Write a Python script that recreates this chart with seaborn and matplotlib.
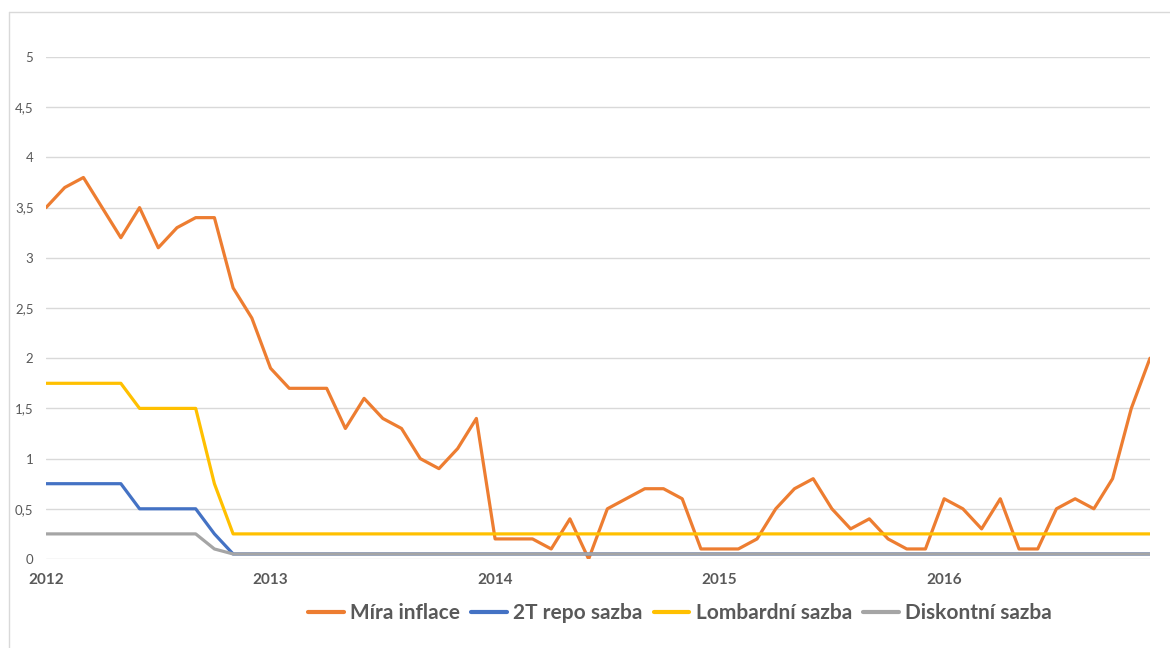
import numpy as np
import pandas as pd
import matplotlib
matplotlib.use("Agg")
import matplotlib.pyplot as plt
from matplotlib.lines import Line2D
import seaborn as sns

# ---- data (monthly, Jan 2012 - Dec 2016) ----
inflation = [3.5, 3.7, 3.8, 3.5, 3.2, 3.5, 3.1, 3.3, 3.4, 3.4, 2.7, 2.4,
             1.9, 1.7, 1.7, 1.7, 1.3, 1.6, 1.4, 1.3, 1.0, 0.9, 1.1, 1.4,
             0.2, 0.2, 0.2, 0.1, 0.4, 0.0, 0.5, 0.6, 0.7, 0.7, 0.6, 0.1,
             0.1, 0.1, 0.2, 0.5, 0.7, 0.8, 0.5, 0.3, 0.4, 0.2, 0.1, 0.1,
             0.6, 0.5, 0.3, 0.6, 0.1, 0.1, 0.5, 0.6, 0.5, 0.8, 1.5, 2.0]
repo_2t = [0.75] * 5 + [0.5] * 4 + [0.25] + [0.05] * 50
lombard = [1.75] * 5 + [1.5] * 4 + [0.75] + [0.25] * 50
discount = [0.25] * 9 + [0.1] + [0.05] * 50
series_names = ["Míra inflace", "2T repo sazba", "Lombardní sazba", "Diskontní sazba"]
year_labels = ["2012", "2013", "2014", "2015", "2016"]
y_ticks = [0, 0.5, 1, 1.5, 2, 2.5, 3, 3.5, 4, 4.5, 5]

colors = ["#ED7D31", "#4472C4", "#FFC000", "#A5A5A5"]

months = np.arange(len(inflation))
df = pd.concat([
    pd.DataFrame({"month": months, "value": vals, "series": name})
    for name, vals in zip(series_names, [inflation, repo_2t, lombard, discount])
], ignore_index=True)

sns.set_style("white")
plt.rcParams["font.family"] = ["Lato", "DejaVu Sans"]

W, H = 1170, 648
fig = plt.figure(figsize=(W / 100, H / 100), dpi=100)
ax = fig.add_axes([46 / W, (H - 559) / H, (1150 - 46) / W, (559 - 57) / H])

sns.lineplot(data=df, x="month", y="value", hue="series", hue_order=series_names,
             palette=colors, linewidth=2.3, ax=ax, legend=False,
             solid_capstyle="round", solid_joinstyle="round")

ax.set_xlim(0, len(inflation) - 1)
ax.set_ylim(0, 5)
ax.set_yticks(y_ticks)
ax.set_yticklabels([("%g" % v).replace(".", ",") for v in y_ticks],
                   fontsize=9.5, color="#595959")
ax.set_xticks([12 * i for i in range(len(year_labels))])
ax.set_xticklabels(year_labels, fontsize=11, fontweight="bold", color="#595959")
ax.tick_params(axis="both", length=0)
ax.tick_params(axis="y", pad=9)
ax.tick_params(axis="x", pad=10)
ax.grid(axis="y", color="#D9D9D9", linewidth=1)
ax.grid(axis="x", visible=False)
for s in ax.spines.values():
    s.set_visible(False)
ax.set_axisbelow(True)
ax.set_xlabel("")
ax.set_ylabel("")

handles = [Line2D([0], [0], color=c, linewidth=3) for c in colors]
leg = ax.legend(handles, series_names, loc="center", bbox_to_anchor=(680 / W, (H - 613) / H),
                bbox_transform=fig.transFigure, ncol=4, frameon=False,
                prop={"size": 15, "weight": "bold"}, handlelength=1.7,
                handletextpad=0.3, columnspacing=0.55)
for t in leg.get_texts():
    t.set_color("#595959")

# chart border (top and left visible)
fig.add_artist(Line2D([9 / W, 1.0], [(H - 12) / H, (H - 12) / H], color="#D9D9D9",
                      linewidth=1, transform=fig.transFigure))
fig.add_artist(Line2D([9 / W, 9 / W], [0, (H - 12) / H], color="#D9D9D9",
                      linewidth=1, transform=fig.transFigure))

fig.savefig("out.png", dpi=100, facecolor="white")
